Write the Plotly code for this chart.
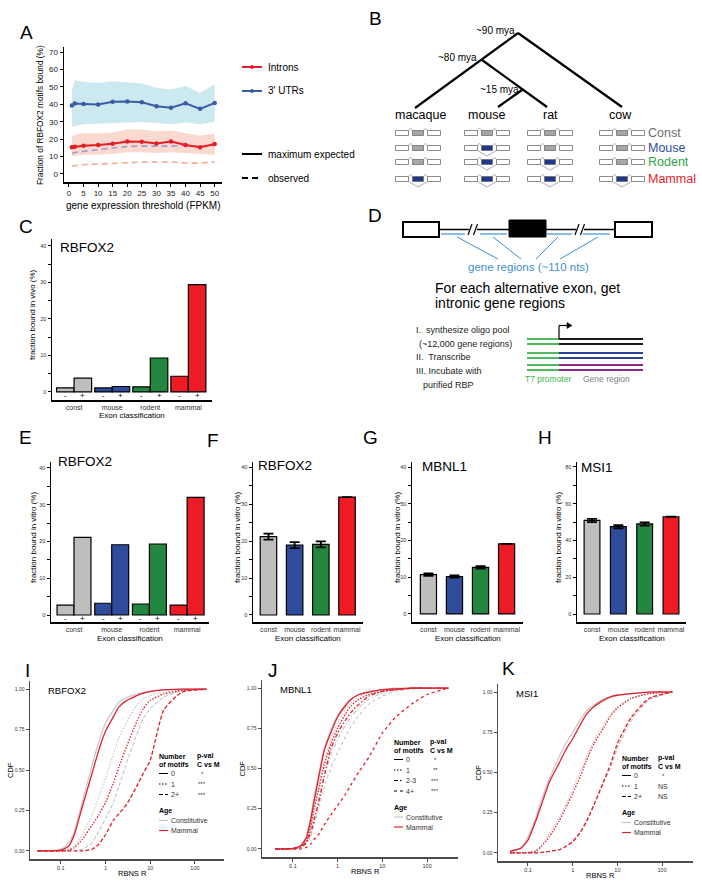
import plotly.graph_objects as go

W, H = 702, 887
FONT = "Liberation Sans, Arial, Helvetica, sans-serif"

# ---------------- data ----------------
# Panel A
fpkm_threshold = [1, 2, 5, 10, 15, 20, 25, 30, 35, 40, 45, 50]
utr_expected = [39.3, 40.4, 40.2, 39.9, 41.4, 41.6, 41.2, 38.9, 38.0, 40.6, 37.4, 40.8]
utr_expected_hi = [48.0, 53.8, 53.0, 52.2, 53.2, 52.5, 52.0, 49.5, 48.5, 50.5, 46.5, 51.5]
utr_expected_lo = [27.0, 27.5, 28.5, 28.8, 29.5, 29.8, 29.8, 29.3, 28.5, 29.5, 28.5, 30.0]
intron_expected = [15.3, 15.6, 16.2, 16.6, 17.4, 18.7, 18.5, 17.5, 18.7, 16.6, 15.4, 17.2]
intron_expected_hi = [21.5, 22.5, 23.5, 23.2, 23.8, 25.5, 25.5, 24.5, 25.0, 23.5, 22.0, 23.2]
intron_expected_lo = [10.0, 10.5, 11.0, 11.0, 11.5, 12.5, 12.5, 12.0, 12.5, 12.0, 11.5, 11.0]
utr_observed = [11.8, 12.3, 13.0, 14.0, 15.0, 15.8, 16.0, 15.8, 16.0, 16.5, 15.8, 16.5]
intron_observed = [4.6, 4.8, 5.3, 5.7, 6.1, 6.7, 6.8, 6.9, 6.9, 6.3, 6.2, 7.1]

# Panels C-H
exon_classes = ["const", "mouse", "rodent", "mammal"]
class_colors = ["#bebebe", "#2f4c9c", "#23873f", "#ed1c24"]
vivo_minus = [1.1, 1.1, 1.4, 4.3]
vivo_plus = [3.8, 1.5, 9.3, 29.4]
vitro_minus = [2.7, 3.2, 3.0, 2.7]
vitro_plus = [21.1, 19.1, 19.3, 32.0]
rbfox2_vitro = [21.2, 18.9, 19.1, 31.9]
rbfox2_err = [0.8, 0.8, 0.8, 0.0]
mbnl1_vitro = [10.7, 10.2, 12.7, 19.1]
mbnl1_err = [0.35, 0.3, 0.35, 0.0]
msi1_vitro = [50.9, 47.5, 49.0, 52.9]
msi1_err = [0.9, 0.9, 0.9, 0.0]

# Panel I (RBFOX2) CDFs
i_rbns = [0.03, 0.1, 0.15, 0.2, 0.3, 0.5, 0.7, 1, 1.5, 2, 3, 5, 7, 10, 20, 50, 180]
i_const_0 = [0, 0.01, 0.05, 0.12, 0.30, 0.53, 0.67, 0.79, 0.87, 0.92, 0.95, 0.97, 0.98, 0.99, 0.995, 1, 1]
i_mammal_0 = [0, 0.005, 0.03, 0.10, 0.27, 0.48, 0.62, 0.74, 0.83, 0.89, 0.93, 0.96, 0.975, 0.985, 0.995, 1, 1]
i_const_1 = [0, 0, 0.01, 0.03, 0.10, 0.22, 0.33, 0.45, 0.60, 0.70, 0.80, 0.90, 0.94, 0.96, 0.98, 0.995, 1]
i_mammal_1 = [0, 0, 0.005, 0.02, 0.07, 0.16, 0.22, 0.30, 0.42, 0.52, 0.65, 0.80, 0.88, 0.93, 0.97, 0.99, 1]
i_const_2 = [0, 0, 0, 0, 0.01, 0.05, 0.12, 0.20, 0.30, 0.40, 0.55, 0.72, 0.82, 0.88, 0.95, 0.99, 1]
i_mammal_2 = [0, 0, 0, 0, 0, 0.01, 0.04, 0.10, 0.19, 0.23, 0.29, 0.40, 0.48, 0.56, 0.87, 0.98, 1]

# Panel J (MBNL1) CDFs
j_rbns = [0.04, 0.1, 0.15, 0.2, 0.25, 0.3, 0.4, 0.5, 0.7, 1, 1.5, 2, 3, 5, 10, 20, 50, 100, 300]
j_const_0 = [0, 0.003, 0.02, 0.08, 0.20, 0.33, 0.50, 0.62, 0.74, 0.83, 0.90, 0.93, 0.96, 0.98, 0.99, 1, 1, 1, 1]
j_mammal_0 = [0, 0.003, 0.02, 0.07, 0.18, 0.30, 0.48, 0.61, 0.72, 0.82, 0.89, 0.93, 0.96, 0.975, 0.99, 0.995, 1, 1, 1]
j_const_1 = [0, 0.003, 0.02, 0.06, 0.16, 0.27, 0.43, 0.55, 0.68, 0.78, 0.87, 0.91, 0.95, 0.97, 0.99, 0.995, 1, 1, 1]
j_mammal_1 = [0, 0.002, 0.015, 0.05, 0.14, 0.25, 0.40, 0.52, 0.65, 0.75, 0.84, 0.89, 0.93, 0.96, 0.98, 0.99, 1, 1, 1]
j_const_23 = [0, 0.002, 0.01, 0.04, 0.12, 0.20, 0.34, 0.45, 0.58, 0.68, 0.77, 0.82, 0.88, 0.93, 0.97, 0.99, 1, 1, 1]
j_mammal_23 = [0, 0.002, 0.01, 0.04, 0.10, 0.18, 0.32, 0.45, 0.62, 0.72, 0.80, 0.85, 0.90, 0.95, 0.98, 0.99, 1, 1, 1]
j_const_4 = [0, 0.001, 0.01, 0.03, 0.08, 0.15, 0.28, 0.38, 0.50, 0.60, 0.70, 0.76, 0.83, 0.90, 0.95, 0.98, 0.995, 1, 1]
j_mammal_4 = [0, 0, 0, 0.01, 0.03, 0.06, 0.10, 0.15, 0.21, 0.27, 0.34, 0.40, 0.48, 0.57, 0.72, 0.82, 0.91, 0.96, 1]

# Panel K (MSI1) CDFs
k_rbns = [0.04, 0.07, 0.1, 0.15, 0.2, 0.3, 0.5, 0.7, 1, 1.5, 2, 3, 5, 7, 10, 20, 50, 170]
k_const_0 = [0.01, 0.03, 0.10, 0.22, 0.33, 0.46, 0.60, 0.68, 0.75, 0.83, 0.88, 0.92, 0.96, 0.97, 0.98, 0.99, 1, 1]
k_mammal_0 = [0.01, 0.03, 0.08, 0.20, 0.30, 0.44, 0.56, 0.64, 0.71, 0.80, 0.86, 0.91, 0.95, 0.97, 0.98, 0.99, 1, 1]
k_const_1 = [0, 0, 0.003, 0.02, 0.05, 0.12, 0.22, 0.30, 0.40, 0.51, 0.59, 0.70, 0.80, 0.86, 0.91, 0.96, 0.99, 1]
k_mammal_1 = [0, 0, 0.002, 0.01, 0.04, 0.10, 0.20, 0.28, 0.37, 0.48, 0.57, 0.68, 0.78, 0.85, 0.90, 0.96, 0.99, 1]
k_const_2 = [0, 0, 0, 0, 0.003, 0.01, 0.02, 0.04, 0.07, 0.14, 0.20, 0.30, 0.44, 0.53, 0.65, 0.82, 0.95, 1]
k_mammal_2 = [0, 0, 0, 0, 0.003, 0.01, 0.02, 0.04, 0.07, 0.13, 0.19, 0.30, 0.45, 0.55, 0.68, 0.84, 0.96, 1]

# ---------------- helpers ----------------
def X(px):
    return px / W


def Y(py):
    return 1 - py / H


annotations = []
shapes = []
layout_axes = {}
fig = go.Figure()

DOT = "1.5px,1.5px"
DASH = "4px,2px"
DASHDOT = "4px,2px,1.5px,2px"
DASH4 = "3px,3px"


def txt(px, py, s, size, color="black", xa="center", ya="middle", angle=0, bold=False):
    if bold:
        s = "<b>" + s + "</b>"
    annotations.append(dict(x=X(px), y=Y(py), xref="paper", yref="paper", text=s, showarrow=False,
                            font=dict(size=size, color=color, family=FONT), xanchor=xa, yanchor=ya,
                            textangle=angle, borderpad=0))


def dtxt(xv, yv, xr, yr, s, size, color="black"):
    annotations.append(dict(x=xv, y=yv, xref=xr, yref=yr, text=s, showarrow=False,
                            font=dict(size=size, color=color, family=FONT), xanchor="center",
                            yanchor="middle", borderpad=0))


def line(x0, y0, x1, y1, color="black", width=1, dash="solid"):
    shapes.append(dict(type="line", xref="paper", yref="paper", x0=X(x0), y0=Y(y0), x1=X(x1), y1=Y(y1),
                       line=dict(color=color, width=width, dash=dash)))


def rect(x0, y0, x1, y1, fill, lc, lw):
    shapes.append(dict(type="rect", xref="paper", yref="paper", x0=X(x0), x1=X(x1), y0=Y(y1), y1=Y(y0),
                       fillcolor=fill, line=dict(color=lc, width=lw)))


def path(d, color, width, fill="rgba(0,0,0,0)"):
    shapes.append(dict(type="path", xref="paper", yref="paper", path=d,
                       line=dict(color=color, width=width), fillcolor=fill))


def P(x, y):
    return f"{X(x):.5f},{Y(y):.5f}"


def axes(idx, left, right, top, bottom, xcfg, ycfg, linecolor="black"):
    xn = "xaxis" if idx == 1 else f"xaxis{idx}"
    yn = "yaxis" if idx == 1 else f"yaxis{idx}"
    base = dict(showline=True, linecolor=linecolor, linewidth=1.5, showgrid=False, zeroline=False,
                ticks="outside", ticklen=3, tickwidth=1, tickcolor=linecolor)
    xa = dict(base, domain=[X(left), X(right)], anchor=("y" if idx == 1 else f"y{idx}"))
    xa.update(xcfg)
    ya = dict(base, domain=[Y(bottom), Y(top)], anchor=("x" if idx == 1 else f"x{idx}"))
    ya.update(ycfg)
    layout_axes[xn] = xa
    layout_axes[yn] = ya


def ax(idx):
    return ("x" if idx == 1 else f"x{idx}"), ("y" if idx == 1 else f"y{idx}")


# ---------------- Panel A ----------------
xa_, ya_ = ax(1)
for lo, hi, fc in [(utr_expected_lo, utr_expected_hi, "rgba(170,218,228,0.6)"),
                   (intron_expected_lo, intron_expected_hi, "rgba(248,196,184,0.65)")]:
    fig.add_trace(go.Scatter(x=fpkm_threshold, y=lo, mode="lines", line=dict(width=0), xaxis=xa_, yaxis=ya_,
                             hoverinfo="skip"))
    fig.add_trace(go.Scatter(x=fpkm_threshold, y=hi, mode="lines", line=dict(width=0), fill="tonexty",
                             fillcolor=fc, xaxis=xa_, yaxis=ya_, hoverinfo="skip"))
fig.add_trace(go.Scatter(x=fpkm_threshold, y=utr_observed, mode="lines",
                         line=dict(color="#9ea0cc", width=1.6, dash="6px,4px"), xaxis=xa_, yaxis=ya_))
fig.add_trace(go.Scatter(x=fpkm_threshold, y=intron_observed, mode="lines",
                         line=dict(color="#f4aa90", width=1.6, dash="6px,4px"), xaxis=xa_, yaxis=ya_))
fig.add_trace(go.Scatter(x=fpkm_threshold, y=utr_expected, mode="lines+markers",
                         line=dict(color="#3b5ba5", width=2), marker=dict(size=4.5, color="#3b5ba5"),
                         xaxis=xa_, yaxis=ya_))
fig.add_trace(go.Scatter(x=fpkm_threshold, y=intron_expected, mode="lines+markers",
                         line=dict(color="#e41e26", width=2), marker=dict(size=4.5, color="#e41e26"),
                         xaxis=xa_, yaxis=ya_))
axes(1, 64, 222, 47, 182,
     dict(range=[-1.7, 52.5], tickvals=list(range(0, 55, 5)), tickfont=dict(size=8, family=FONT, color="#222")),
     dict(range=[-4.6, 72.9], tickvals=list(range(0, 80, 10)), tickfont=dict(size=8, family=FONT, color="#222")))
txt(40, 115, "Fraction of RBFOX2 motifs bound (%)", 8.3, angle=-90)
txt(143, 205, "gene expression threshold (FPKM)", 10)
# legend A
for yy, col, lab in [(67, "#e41e26", "Introns"), (91, "#3b5ba5", "3' UTRs")]:
    line(242, yy, 262, yy, col, 2)
    shapes.append(dict(type="circle", xref="paper", yref="paper", x0=X(250), x1=X(254), y0=Y(yy + 2),
                       y1=Y(yy - 2), fillcolor=col, line=dict(color=col, width=0)))
    txt(267, yy, lab, 10, xa="left")
line(242, 154, 262, 154, "black", 2)
txt(267, 154, "maximum expected", 10, xa="left")
line(242, 178, 262, 178, "black", 2, "6px,4px")
txt(267, 178, "observed", 10, xa="left")

# ---------------- Panel B ----------------
TREE = "black"
line(518, 33, 415, 108, TREE, 2.2)
line(518, 33, 622, 107, TREE, 2.2)
line(482, 60, 547, 107, TREE, 2.2)
line(522, 90, 498, 107, TREE, 2.2)
txt(516, 30, "~90 mya", 10, xa="right")
txt(478, 57, "~80 mya", 10, xa="right")
txt(520, 89, "~15 mya", 10, xa="right")
species = ["macaque", "mouse", "rat", "cow"]
species_x = [420, 487, 550, 620]
for s, sx in zip(species, species_x):
    txt(sx, 115, s, 12.5)
diag_x = [418, 487, 550, 622]
row_y = [133, 148, 162, 179]
row_labels = ["Const", "Mouse", "Rodent", "Mammal"]
row_colors = ["#6d6e71", "#2e4da0", "#2ca84a", "#e8202a"]
alt_species = [[], ["mouse"], ["mouse", "rat"], ["macaque", "mouse", "rat", "cow"]]
for ry, lab, lc, alts in zip(row_y, row_labels, row_colors, alt_species):
    for s, cx in zip(species, diag_x):
        alt = s in alts
        if alt:
            path("M " + P(cx - 9.5, ry + 2.5) + " L " + P(cx, ry + 8) + " L " + P(cx + 9.5, ry + 2.5),
                 "#8f93b5", 0.8)
        rect(cx - 22.5, ry - 2.5, cx - 9.5, ry + 2.5, "white", "#6e6e6e", 0.8)
        rect(cx + 9.5, ry - 2.5, cx + 22.5, ry + 2.5, "white", "#6e6e6e", 0.8)
        rect(cx - 5.5, ry - 2.5, cx + 5.5, ry + 2.5, "#1f3a8a" if alt else "#a6a6a6", "#6e6e6e", 0.8)
        path("M " + P(cx - 9.5, ry - 2) + " Q " + P(cx - 7.5, ry - 7) + " " + P(cx - 5.5, ry - 2),
             "#8a8a8a", 0.7)
        path("M " + P(cx + 5.5, ry - 2) + " Q " + P(cx + 7.5, ry - 7) + " " + P(cx + 9.5, ry - 2),
             "#8a8a8a", 0.7)
    txt(647, ry, lab, 12.5, color=lc, xa="left")

# ---------------- Panel D ----------------
BLUE_D = "#3f8fcf"
line(439, 229.5, 509, 229.5, "black", 1.5)
line(546, 229.5, 615, 229.5, "black", 1.5)
for bx in [473, 580]:
    rect(bx - 4, 225, bx + 4, 234, "white", "white", 0)
    line(bx - 5, 235, bx - 1, 224, "black", 1.2)
    line(bx + 0.5, 235, bx + 4.5, 224, "black", 1.2)
rect(403, 222, 439, 237, "white", "black", 2)
rect(509, 220, 546, 237, "black", "black", 1)
rect(615, 222, 652, 237, "white", "black", 2)
for a, b in [(441, 465), (480, 507), (547, 572), (583, 610)]:
    line(a, 234, b, 234, BLUE_D, 1.2)
for (a, b), (c, d) in [((457, 237), (498, 259)), ((493, 237), (521, 259)),
                       ((558, 237), (536, 259)), ((598, 237), (560, 259))]:
    line(a, b, c, d, BLUE_D, 1)
txt(528, 267, "gene regions (~110 nts)", 11.5, color=BLUE_D)
txt(434, 288, "For each alternative exon, get", 14, xa="left")
txt(434, 303, "intronic gene regions", 14, xa="left")
steps = [(415, 330, "I.  synthesize oligo pool"), (418, 344, "(~12,000 gene regions)"),
         (415, 357, "II.  Transcribe"), (415, 371, "III. Incubate with"), (422, 385, "purified RBP")]
for sx, sy, s in steps:
    txt(sx, sy, s, 9, color="#222", xa="left")
for (y1, y2), col in zip([(339, 344), (353, 358), (365, 370)], ["#1a1a1a", "#2b3f99", "#8b2a8c"]):
    for yy in (y1, y2):
        line(527, yy, 559, yy, "#3ab54a", 1.8)
        line(559, yy, 643, yy, col, 1.8)
line(559, 339, 559, 325.5, "black", 1.2)
line(559, 325.5, 568, 325.5, "black", 1.2)
path("M " + P(567, 322.5) + " L " + P(572, 325.5) + " L " + P(567, 328.5) + " Z", "black", 0.5, "black")
txt(548, 379, "T7 promoter", 8.5, color="#3ab54a")
txt(606, 379, "Gene region", 8.5, color="#808080")


# ---------------- bar panels ----------------
def bar_panel(idx, left, right, top, bottom, xr, yr, ytick, yminor, title, tx, ty, ytitle, ytx, yty):
    axes(idx, left, right, top, bottom,
         dict(range=xr, tickvals=[1, 2, 3, 4], ticktext=exon_classes, ticks="",
              tickfont=dict(size=7, family=FONT, color="#333")),
         dict(range=yr, tick0=0, dtick=ytick, tickfont=dict(size=5.5, family=FONT, color="#333"),
              minor=dict(dtick=yminor, tick0=0, ticks="outside", ticklen=3, tickcolor="black", showgrid=False)))
    txt(tx, ty, title, 13.5, xa="left")
    txt(ytx, yty, ytitle, 8, angle=-90)
    txt((left + right) / 2, 638 if idx > 2 else 415, "Exon classification", 8)


def paired_bars(idx, minus, plus, w):
    xa_, ya_ = ax(idx)
    pos = [1, 2, 3, 4]
    fig.add_trace(go.Bar(x=[p - w / 2 for p in pos], y=minus, width=w, marker=dict(color=class_colors,
                         line=dict(color="black", width=1.2)), xaxis=xa_, yaxis=ya_))
    fig.add_trace(go.Bar(x=[p + w / 2 for p in pos], y=plus, width=w, marker=dict(color=class_colors,
                         line=dict(color="black", width=1.2)), xaxis=xa_, yaxis=ya_))
    for p in pos:
        dtxt(p - w / 2, -0.9, xa_, ya_, "-", 8)
        dtxt(p + w / 2, -0.9, xa_, ya_, "+", 8)


def single_bars(idx, vals, err, w):
    xa_, ya_ = ax(idx)
    fig.add_trace(go.Bar(x=[1, 2, 3, 4], y=vals, width=w,
                         marker=dict(color=class_colors, line=dict(color="black", width=1.2)),
                         error_y=dict(type="data", array=err, color="black", thickness=1.8, width=5),
                         xaxis=xa_, yaxis=ya_))


# C
paired_bars(2, vivo_minus, vivo_plus, 0.46)
bar_panel(2, 52, 212, 239, 400, [0.42, 4.62], [-2.2, 41.9], 10, 5, "RBFOX2", 59, 247,
          "fraction bound in vivo (%)", 33, 315)
# E
paired_bars(3, vitro_minus, vitro_plus, 0.45)
bar_panel(3, 51, 209, 462, 622, [0.39, 4.58], [-1.9, 41.6], 10, 5, "RBFOX2", 57, 462,
          "fraction bound in vitro (%)", 33, 538)
# F
single_bars(4, rbfox2_vitro, rbfox2_err, 0.63)
bar_panel(4, 253, 363, 462, 622, [0.41, 4.61], [-1.9, 41.4], 10, 5, "RBFOX2", 257, 465,
          "fraction bound in vitro (%)", 237, 538)
# G
single_bars(5, mbnl1_vitro, mbnl1_err, 0.62)
bar_panel(5, 412, 523, 462, 622, [0.37, 4.63], [-2.2, 41.4], 10, 5, "MBNL1", 421, 466,
          "fraction bound in vitro (%)", 397, 538)
# H
single_bars(6, msi1_vitro, msi1_err, 0.6)
bar_panel(6, 577, 686, 462, 622, [0.43, 4.57], [-4.35, 82.7], 20, 10, "MSI1", 580, 467,
          "fraction bound in vitro (%)", 558, 538)

# ---------------- CDF panels ----------------
GREY_C = "#c4c4c4"
RED_C = "#e0202e"


def cdf_panel(idx, left, right, top, bottom, xr, grid, curves, title, legend_x, legend_y, pcol_x, rows):
    xa_, ya_ = ax(idx)
    for vals, age, dash in curves:
        col = GREY_C if age == "c" else RED_C
        fig.add_trace(go.Scatter(x=grid, y=vals, mode="lines", line=dict(color=col, width=1.1 if age == "c" else 1.3,
                                 dash=dash, shape="spline", smoothing=0.5), xaxis=xa_, yaxis=ya_))
    axes(idx, left, right, top, bottom,
         dict(type="log", range=xr, tickvals=[0.1, 1, 10, 100], ticktext=["0.1", "1", "10", "100"],
              tickfont=dict(size=5.5, family=FONT, color="#333")),
         dict(range=[-0.05, 1.05], tickvals=[0, 0.25, 0.5, 0.75, 1.0],
              ticktext=["0.00", "0.25", "0.50", "0.75", "1.00"],
              tickfont=dict(size=5, family=FONT, color="#333")), linecolor="#4d4d4d")
    txt(left + 17, top + 9, title, 9.5, xa="left")
    txt((left + right) / 2 + 5, bottom + 14, "RBNS R", 7.5)
    txt(left - 20, (top + bottom) / 2, "CDF", 7.5, angle=-90)
    lx, ly = legend_x, legend_y
    txt(lx, ly, "Number", 7, xa="left", bold=True)
    txt(lx, ly + 8.5, "of motifs", 7, xa="left", bold=True)
    txt(pcol_x, ly, "p-val", 7, xa="left", bold=True)
    txt(pcol_x, ly + 8.5, "C vs M", 7, xa="left", bold=True)
    yy = ly + 17.5
    for lab, dash, pv in rows:
        line(lx + 1, yy, lx + 10, yy, "black", 1, dash)
        txt(lx + 12, yy, lab, 7, xa="left", color="#333")
        txt(pcol_x + 6, yy, pv, 6 if pv.startswith("*") else 7, color="#333")
        yy += 10.5
    yy += 6
    txt(lx, yy, "Age", 7, xa="left", bold=True)
    line(lx + 1, yy + 9.5, lx + 10, yy + 9.5, GREY_C, 1.2)
    txt(lx + 12, yy + 9.5, "Constitutive", 7, xa="left", color="#333")
    line(lx + 1, yy + 19.5, lx + 10, yy + 19.5, RED_C, 1.2)
    txt(lx + 12, yy + 19.5, "Mammal", 7, xa="left", color="#333")


cdf_panel(7, 30, 224, 681, 859, [-1.69, 2.65], i_rbns,
          [(i_const_0, "c", "solid"), (i_const_1, "c", DOT), (i_const_2, "c", DASH),
           (i_mammal_0, "m", "solid"), (i_mammal_1, "m", DOT), (i_mammal_2, "m", DASH)],
          "RBFOX2", 158, 756, 196, [("0", "solid", "*"), ("1", DOT, "***"), ("2+", DASH, "***")])
cdf_panel(8, 262, 458, 680, 857, [-1.69, 2.69], j_rbns,
          [(j_const_0, "c", "solid"), (j_const_1, "c", DOT), (j_const_23, "c", DASHDOT),
           (j_const_4, "c", DASH4),
           (j_mammal_0, "m", "solid"), (j_mammal_1, "m", DOT), (j_mammal_23, "m", DASHDOT),
           (j_mammal_4, "m", DASH4)],
          "MBNL1", 393, 742, 429,
          [("0", "solid", "*"), ("1", DOT, "**"), ("2-3", DASHDOT, "***"), ("4+", DASH4, "***")])
cdf_panel(9, 498, 693, 684, 861, [-1.67, 2.69], k_rbns,
          [(k_const_0, "c", "solid"), (k_const_1, "c", DOT), (k_const_2, "c", DASH),
           (k_mammal_0, "m", "solid"), (k_mammal_1, "m", DOT), (k_mammal_2, "m", DASH)],
          "MSI1", 621, 758, 657, [("0", "solid", "*"), ("1", DOT, "NS"), ("2+", DASH, "NS")])

# ---------------- panel letters ----------------
for letter, lx, ly in [("A", 26, 32), ("B", 375, 18), ("C", 26, 226), ("D", 375, 215), ("E", 25, 438),
                       ("F", 213, 440), ("G", 370, 438), ("H", 545, 438), ("I", 27, 670), ("J", 273, 670),
                       ("K", 508, 668)]:
    txt(lx, ly, letter, 19)

fig.update_layout(width=W, height=H, margin=dict(l=0, r=0, t=0, b=0), plot_bgcolor="white",
                  paper_bgcolor="white", showlegend=False, barmode="overlay", hovermode=False,
                  font=dict(family=FONT), annotations=annotations, shapes=shapes, **layout_axes)
fig.write_html("out.html", config={"displayModeBar": False, "staticPlot": True},
               post_script="document.body.style.margin='0';document.body.style.padding='0';"
                           "document.documentElement.style.overflow='hidden';")
